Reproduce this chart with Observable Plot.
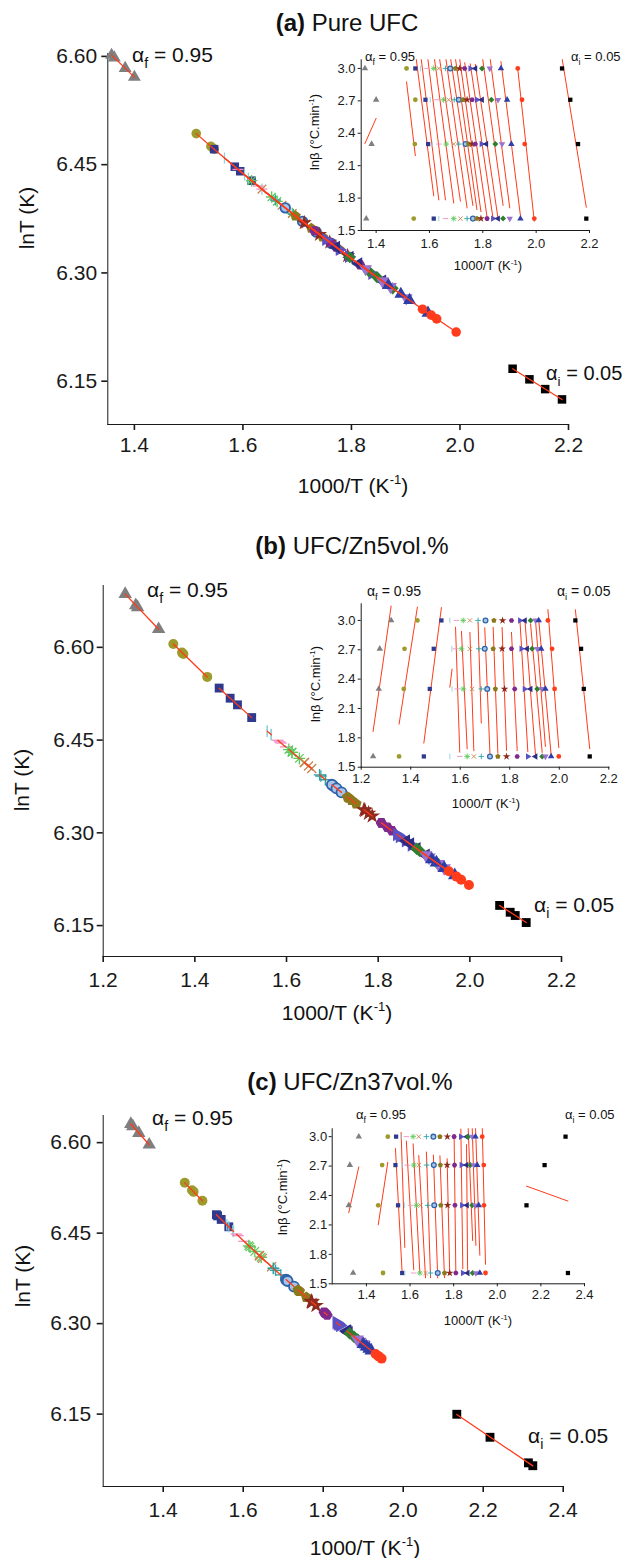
<!DOCTYPE html>
<html><head><meta charset="utf-8">
<script src="https://cdn.jsdelivr.net/npm/d3@7"></script>
<script src="https://cdn.jsdelivr.net/npm/@observablehq/plot@0.6"></script>
<style>
body{margin:0;background:#fff}
#root{position:relative;width:630px;height:1558px;overflow:hidden;background:#fff;font-family:"Liberation Sans",Arial,sans-serif}
#root > svg{position:absolute}
.mainplot [aria-label*="axis"]{stroke-width:1.6px}
</style>
</head><body><div id="root"></div>
<script>
// ---------------- data ----------------
// heating-rate rows of the insets: ln(beta) for 20, 15, 10, 5 °C/min
const lnBeta = [3.0, 2.71, 2.30, 1.61];

// series (conversion levels, alpha_f = 0.95 ... alpha_i = 0.05)
const seriesSymbols = ["triUp","circle","square","vbar","hbar","asterisk","times","plus","ring","pentagon","star","hexagon","triRight","triLeft","diamond","triDown","triUp","circle","square"];
const seriesColors  = ["#7f7f7f","#9d9b2b","#2f3a8e","#8fd3d8","#f28ec4","#5fc95f","#c9834f","#2fa3a3","#2e63ab","#8a7a1c","#8e2b1f","#7d2a8c","#5a52c4","#2d2d86","#2f7f2f","#9a72d0","#2f3ea6","#ff3c1c","#000000"];

// 1000/T (K^-1) of each series at the four heating rates (rows 3.0, 2.7, 2.3, 1.6)
const xPanelA = [
 [1.358,1.400,1.383,1.363],[1.514,1.547,1.545,1.541],[1.547,1.585,1.595,1.616],[1.566,1.603,1.610,1.635],
 [1.591,1.628,1.635,1.660],[1.616,1.653,1.663,1.691],[1.635,1.672,1.691,1.716],[1.660,1.693,1.710,1.741],
 [1.678,1.710,1.735,1.763],[1.697,1.726,1.747,1.778],[1.713,1.741,1.760,1.793],[1.732,1.760,1.772,1.816],
 [1.753,1.778,1.795,1.838],[1.772,1.797,1.813,1.857],[1.797,1.832,1.847,1.876],[1.826,1.857,1.872,1.901],
 [1.868,1.891,1.907,1.941],[1.931,1.947,1.957,1.993],[2.097,2.128,2.157,2.188]];
const xPanelB = [
 [1.321,1.275,1.271,1.248],[1.427,1.375,1.372,1.353],[1.524,1.493,1.477,1.453],[1.558,1.566,1.567,1.558],
 [1.585,1.581,1.588,1.598],[1.612,1.605,1.612,1.628],[1.639,1.639,1.648,1.655],[1.672,1.675,1.685,1.685],
 [1.702,1.699,1.709,1.720],[1.736,1.733,1.742,1.752],[1.771,1.769,1.779,1.787],[1.807,1.807,1.820,1.830],
 [1.841,1.847,1.860,1.873],[1.861,1.870,1.884,1.904],[1.884,1.890,1.911,1.931],[1.904,1.911,1.931,1.944],
 [1.917,1.927,1.944,1.967],[1.954,1.971,1.981,1.998],[2.065,2.088,2.099,2.123]];
const xPanelC = [
 [1.365,1.324,1.319,1.339],[1.498,1.472,1.454,1.476],[1.536,1.533,1.545,1.564],[1.559,1.564,1.574,1.576],
 [1.583,1.587,1.602,1.617],[1.614,1.617,1.629,1.645],[1.640,1.641,1.648,1.671],[1.675,1.676,1.681,1.694],
 [1.707,1.709,1.711,1.727],[1.737,1.739,1.741,1.758],[1.771,1.770,1.772,1.782],[1.802,1.804,1.806,1.810],
 [1.833,1.836,1.838,1.842],[1.860,1.859,1.861,1.864],[1.866,1.877,1.885,1.887],[1.885,1.892,1.900,1.902],
 [1.900,1.908,1.915,1.920],[1.931,1.938,1.939,1.946],[2.313,2.217,2.134,2.324]];

// ---------------- symbols ----------------
function polygon(n, rot){const k=n/2*Math.sin(2*Math.PI/n);return {draw(c,size){const R=Math.sqrt(size/k);for(let i=0;i<n;i++){const a=rot+2*Math.PI*i/n,px=R*Math.sin(a),py=-R*Math.cos(a);if(i)c.lineTo(px,py);else c.moveTo(px,py);}c.closePath();}};}
const circleSym={draw(c,size){const r=Math.sqrt(size/Math.PI);c.moveTo(r,0);c.arc(0,0,r,0,2*Math.PI);}};
const SYM = {
 triUp: polygon(3,0), triDown: polygon(3,Math.PI), triRight: polygon(3,Math.PI/2), triLeft: polygon(3,-Math.PI/2),
 square: polygon(4,Math.PI/4), diamond: polygon(4,0), pentagon: polygon(5,0), hexagon: polygon(6,Math.PI/6),
 circle: circleSym, ring: circleSym, star: d3.symbolStar,
 vbar:{draw(c,s){const r=Math.sqrt(s/Math.PI)*1.15;c.moveTo(0,-r);c.lineTo(0,r);}},
 hbar:{draw(c,s){const r=Math.sqrt(s/Math.PI)*1.15;c.moveTo(-r,0);c.lineTo(r,0);}},
 plus:{draw(c,s){const r=Math.sqrt(s/Math.PI)*1.15;c.moveTo(-r,0);c.lineTo(r,0);c.moveTo(0,-r);c.lineTo(0,r);}},
 times:{draw(c,s){const r=Math.sqrt(s/Math.PI)*0.9;c.moveTo(-r,-r);c.lineTo(r,r);c.moveTo(-r,r);c.lineTo(r,-r);}},
 asterisk:{draw(c,s){const r=Math.sqrt(s/Math.PI)*1.2,q=r*0.7071;c.moveTo(-r,0);c.lineTo(r,0);c.moveTo(0,-r);c.lineTo(0,r);c.moveTo(-q,-q);c.lineTo(q,q);c.moveTo(-q,q);c.lineTo(q,-q);}}
};
const strokeOnly = new Set(["vbar","hbar","plus","times","asterisk"]);
const RED = "#ff3b1a";

// table built from the arrays; lnT of the main plots is ln of T = 1000/(1000/T)
function table(xs){const out=[];xs.forEach((arr,s)=>arr.forEach((x,k)=>out.push({s,x,lnb:lnBeta[k],lnT:Math.log(1000/x)})));return out;}

function dots(data, yKey, r, sw){
  return seriesSymbols.map((name,i)=>{
    const col=seriesColors[i];
    const o={x:"x",y:yKey,r,symbol:SYM[name]};
    if(strokeOnly.has(name)){o.fill="none";o.stroke=col;o.strokeWidth=sw;}
    else if(name==="ring"){o.fill="#a9c4e6";o.stroke=col;o.strokeWidth=sw*1.4;}
    else {o.fill=col;o.stroke="none";}
    return Plot.dot(data.filter(d=>d.s===i),o);
  });
}
const fmt1=d3.format(".1f"), fmt2=d3.format(".2f");
const FONT='"Liberation Sans", Arial, sans-serif';
const root=document.getElementById("root");

function place(svg,left,top,cls){svg.style.left=left+"px";svg.style.top=top+"px";if(cls)svg.classList.add(cls);root.appendChild(svg);}

const panels=[
 {xs:xPanelA,
  main:{top:0,h:470,mt:53,mb:46,ml:107.3,mr:62,xd:[1.351,2.2],yd:[6.09,6.604],xt:[1.4,1.6,1.8,2.0,2.2],xpad:7,ypad:4.6,r:4.8},
  inset:{left:300,top:40,w:330,h:220,ml:60.7,mr:41,mt:19.3,mb:30,xd:[1.344,2.2],yd:[1.5,3.08],xt:[1.4,1.6,1.8,2.0,2.2],xpad:5,ypad:2.7}},
 {xs:xPanelB,
  main:{top:560,h:440,mt:25,mb:44,ml:102.7,mr:69,xd:[1.2,2.2],yd:[6.1,6.7],xt:[1.2,1.4,1.6,1.8,2.0,2.2],xpad:10,ypad:3,r:5},
  inset:{left:300,top:585,w:330,h:210,ml:60.7,mr:21.7,mt:18.3,mb:28.3,xd:[1.2,2.2],yd:[1.5,3.17],xt:[1.2,1.4,1.6,1.8,2.0,2.2],xpad:3.6,ypad:2.7}},
 {xs:xPanelC,
  main:{top:1100,h:420,mt:15,mb:34,ml:102.7,mr:67.3,xd:[1.25,2.4],yd:[6.03,6.645],xt:[1.4,1.6,1.8,2.0,2.2,2.4],xpad:10,ypad:6,r:5},
  inset:{left:280,top:1110,w:330,h:200,ml:51.7,mr:26,mt:18.3,mb:26.7,xd:[1.243,2.4],yd:[1.5,3.08],xt:[1.4,1.6,1.8,2.0,2.2,2.4],xpad:3,ypad:2}}
];

for(const p of panels){
  const data=table(p.xs);
  const m=p.main;
  const mainSvg=Plot.plot({
    width:630,height:m.h,marginTop:m.mt,marginBottom:m.mb,marginLeft:m.ml,marginRight:m.mr,
    style:{background:"transparent",fontSize:"21px",fontFamily:FONT,color:"#1a1a1a",overflow:"visible"},
    x:{domain:m.xd,ticks:m.xt,tickFormat:fmt1,tickSize:6,tickPadding:m.xpad,label:null,line:true},
    y:{domain:m.yd,ticks:[6.15,6.30,6.45,6.60],tickFormat:fmt2,tickSize:6,tickPadding:m.ypad,label:null,line:true},
    marks:[...dots(data,"lnT",m.r,1.3),
      Plot.linearRegressionY(data,{x:"x",y:"lnT",z:"s",stroke:RED,strokeWidth:1.3,ci:0})]
  });
  place(mainSvg,0,m.top,"mainplot");
  const n=p.inset;
  const insetSvg=Plot.plot({
    width:n.w,height:n.h,marginTop:n.mt,marginBottom:n.mb,marginLeft:n.ml,marginRight:n.mr,
    style:{background:"transparent",fontSize:"13px",fontFamily:FONT,color:"#1a1a1a",overflow:"visible"},
    x:{domain:n.xd,ticks:n.xt,tickFormat:fmt1,tickSize:3,tickPadding:n.xpad,label:null,line:true},
    y:{domain:n.yd,ticks:[1.5,1.8,2.1,2.4,2.7,3.0],tickFormat:fmt1,tickSize:3,tickPadding:n.ypad,label:null,line:true},
    marks:[Plot.linearRegressionY(data,{x:"x",y:"lnb",z:"s",stroke:RED,strokeWidth:1,ci:0,clip:true}),
      ...dots(data,"lnb",2.4,0.9)]
  });
  place(insetSvg,n.left,n.top,"insetplot");
}

// ---------------- titles, axis titles and annotations ----------------
const texts=[
 {x:347,y:31,size:24,anchor:"middle",parts:[["(a)","b"],[" Pure UFC"]]},
 {x:34,y:218,size:21,anchor:"middle",rot:-90,parts:[["lnT (K)"]]},
 {x:353,y:493,size:21,anchor:"middle",parts:[["1000/T (K"],["-1","sup"],[")"]]},
 {x:132,y:62,size:21,parts:[["α"],["f","sub"],[" = 0.95"]]},
 {x:546,y:380,size:20,parts:[["α"],["i","sub"],[" = 0.05"]]},
 {x:319,y:132,size:13,anchor:"middle",rot:-90,parts:[["lnβ (°C.min"],["-1","sup"],[")"]]},
 {x:488,y:270,size:13,anchor:"middle",parts:[["1000/T (K"],["-1","sup"],[")"]]},
 {x:365,y:61,size:13,parts:[["α"],["f","sub"],[" = 0.95"]]},
 {x:571,y:61,size:13,parts:[["α"],["i","sub"],[" = 0.05"]]},

 {x:352,y:554,size:24,anchor:"middle",parts:[["(b)","b"],[" UFC/Zn5vol.%"]]},
 {x:29,y:780,size:21,anchor:"middle",rot:-90,parts:[["lnT (K)"]]},
 {x:337,y:1020,size:21,anchor:"middle",parts:[["1000/T (K"],["-1","sup"],[")"]]},
 {x:147,y:597,size:21,parts:[["α"],["f","sub"],[" = 0.95"]]},
 {x:534,y:912,size:21,parts:[["α"],["i","sub"],[" = 0.05"]]},
 {x:320,y:684,size:13,anchor:"middle",rot:-90,parts:[["lnβ (°C.min"],["-1","sup"],[")"]]},
 {x:486,y:808,size:13,anchor:"middle",parts:[["1000/T (K"],["-1","sup"],[")"]]},
 {x:367,y:596,size:14,parts:[["α"],["f","sub"],[" = 0.95"]]},
 {x:557,y:596,size:14,parts:[["α"],["i","sub"],[" = 0.05"]]},

 {x:350,y:1090,size:24,anchor:"middle",parts:[["(c)","b"],[" UFC/Zn37vol.%"]]},
 {x:30,y:1276,size:21,anchor:"middle",rot:-90,parts:[["lnT (K)"]]},
 {x:365,y:1555,size:21,anchor:"middle",parts:[["1000/T (K"],["-1","sup"],[")"]]},
 {x:152,y:1125,size:21,parts:[["α"],["f","sub"],[" = 0.95"]]},
 {x:528,y:1443,size:21,parts:[["α"],["i","sub"],[" = 0.05"]]},
 {x:287,y:1197,size:13,anchor:"middle",rot:-90,parts:[["lnβ (°C.min"],["-1","sup"],[")"]]},
 {x:478,y:1325,size:13,anchor:"middle",parts:[["1000/T (K"],["-1","sup"],[")"]]},
 {x:356,y:1119,size:13,parts:[["α"],["f","sub"],[" = 0.95"]]},
 {x:565,y:1119,size:13,parts:[["α"],["i","sub"],[" = 0.05"]]}
];
const overlay=d3.select(root).append("svg").attr("width",630).attr("height",1558)
  .style("left","0px").style("top","0px").style("pointer-events","none").style("font-family",FONT);
for(const t of texts){
  const el=overlay.append("text").attr("font-size",t.size).attr("text-anchor",t.anchor||"start").attr("fill","#111");
  if(t.rot) el.attr("transform",`translate(${t.x},${t.y}) rotate(${t.rot})`); else el.attr("x",t.x).attr("y",t.y);
  let shift=0;
  for(const [s,k] of t.parts){
    const sp=el.append("tspan").text(s);
    let target=0;
    if(k==="sub"){sp.attr("font-size",t.size*0.68);target=t.size*0.3;}
    else if(k==="sup"){sp.attr("font-size",t.size*0.62);target=-t.size*0.42;}
    else if(k==="b"){sp.attr("font-weight","bold");}
    if(target!==shift){sp.attr("dy",target-shift);shift=target;}
  }
}
</script></body></html>
